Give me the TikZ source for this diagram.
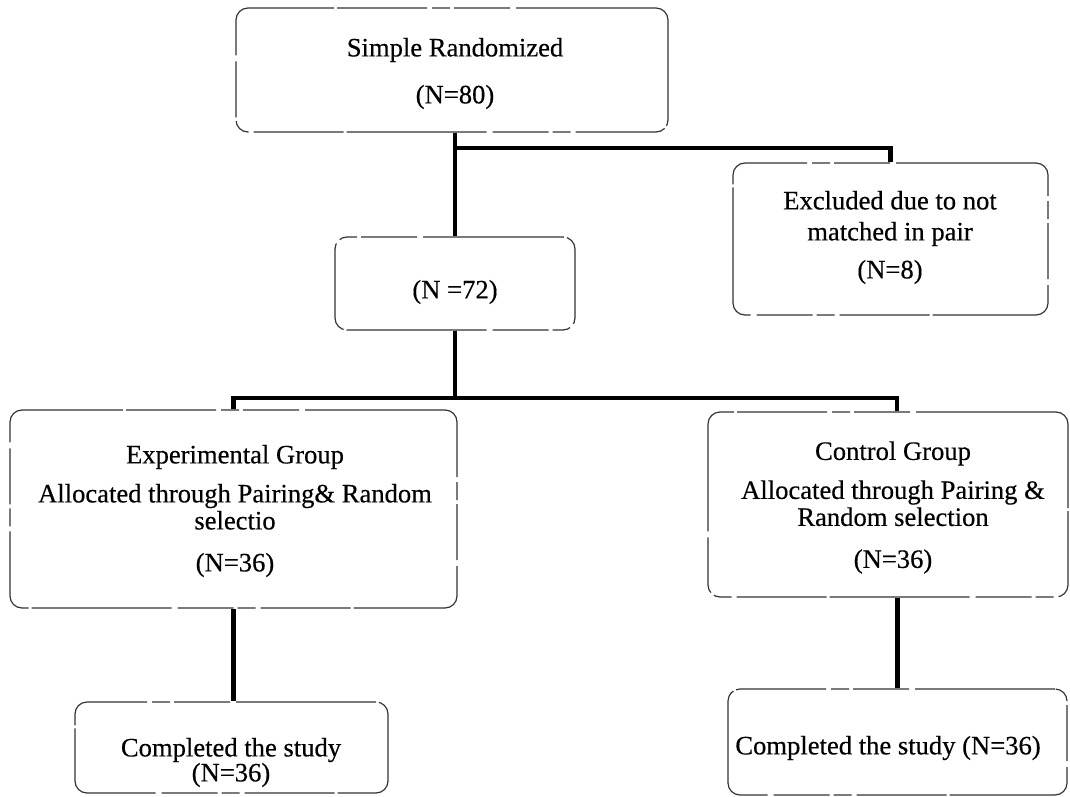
\documentclass[tikz,border=0pt]{standalone}
\usepackage{fontspec}
\setmainfont{Liberation Serif}
\newfontfamily\scanfont{Liberation Serif}[FakeBold=0.4]
\begin{document}
\begin{tikzpicture}[x=0.5pt,y=-0.5pt,
  box/.style={draw=black!80, line width=0.6pt, rounded corners=6pt, inner sep=0pt,
    dash pattern=on 70pt off 3pt on 28pt off 2pt on 9pt off 2.5pt on 45pt off 1.5pt},
  txt/.style={font=\scanfont\fontsize{13.3}{13.5}\selectfont, align=center, inner sep=0pt},
  conn/.style={line width=2.4pt, black}]
\useasboundingbox (0,0) rectangle (1070,797);

% boxes
\node[box, minimum width=216pt, minimum height=62pt]   (b1) at (452,70) {};
\node[box, minimum width=120pt, minimum height=46.5pt] (b2) at (455,283.5) {};
\node[box, minimum width=157.5pt, minimum height=76pt] (ex) at (890.5,239) {};
\node[box, minimum width=223.5pt, minimum height=99pt] (eg) at (233.5,509) {};
\node[box, minimum width=180pt, minimum height=92.5pt] (cg) at (888,504.5) {};
\node[box, minimum width=156.5pt, minimum height=45.5pt] (c1) at (231.5,747.5) {};
\node[box, minimum width=169.5pt, minimum height=53pt] (c2) at (897.5,742) {};

% texts
\node[txt] (t1) at (455,73.5) {Simple Randomized\\[10pt](N=80)};
\node[txt] (t2) at (455,292) {(N =72)};
\node[txt] (t3) at (890,237.5) {Excluded due to not\\[2pt]matched in pair\\[5.5pt](N=8)};
\node[txt] (t4) at (235,511) {Experimental Group\\[6pt]Allocated through Pairing\& Random\\selectio\\[7.5pt](N=36)};
\node[txt] (t5) at (893,507.5) {Control Group\\[6pt]Allocated through Pairing \&\\Random selection\\[7.5pt](N=36)};
\node[txt] (t6) at (231,762.5) {Completed the study\\[-1pt](N=36)};
\node[txt] (t7) at (888,748) {Completed the study (N=36)};

% connectors
\coordinate (j1) at (455,148);
\coordinate (j2) at (455,398);
\draw[conn] (b1.south -| b2.north) -- (b2.north);
\draw[conn] (j1) -| (ex.north);
\draw[conn] (b2.south) -- (j2);
\draw[conn] (j2) -| (eg.north);
\draw[conn] (j2) -| ([xshift=4.5pt]cg.north);
\draw[conn] (eg.south) -- (eg.south |- c1.north);
\draw[conn] (c2.north |- cg.south) -- (c2.north);
\end{tikzpicture}
\end{document}
